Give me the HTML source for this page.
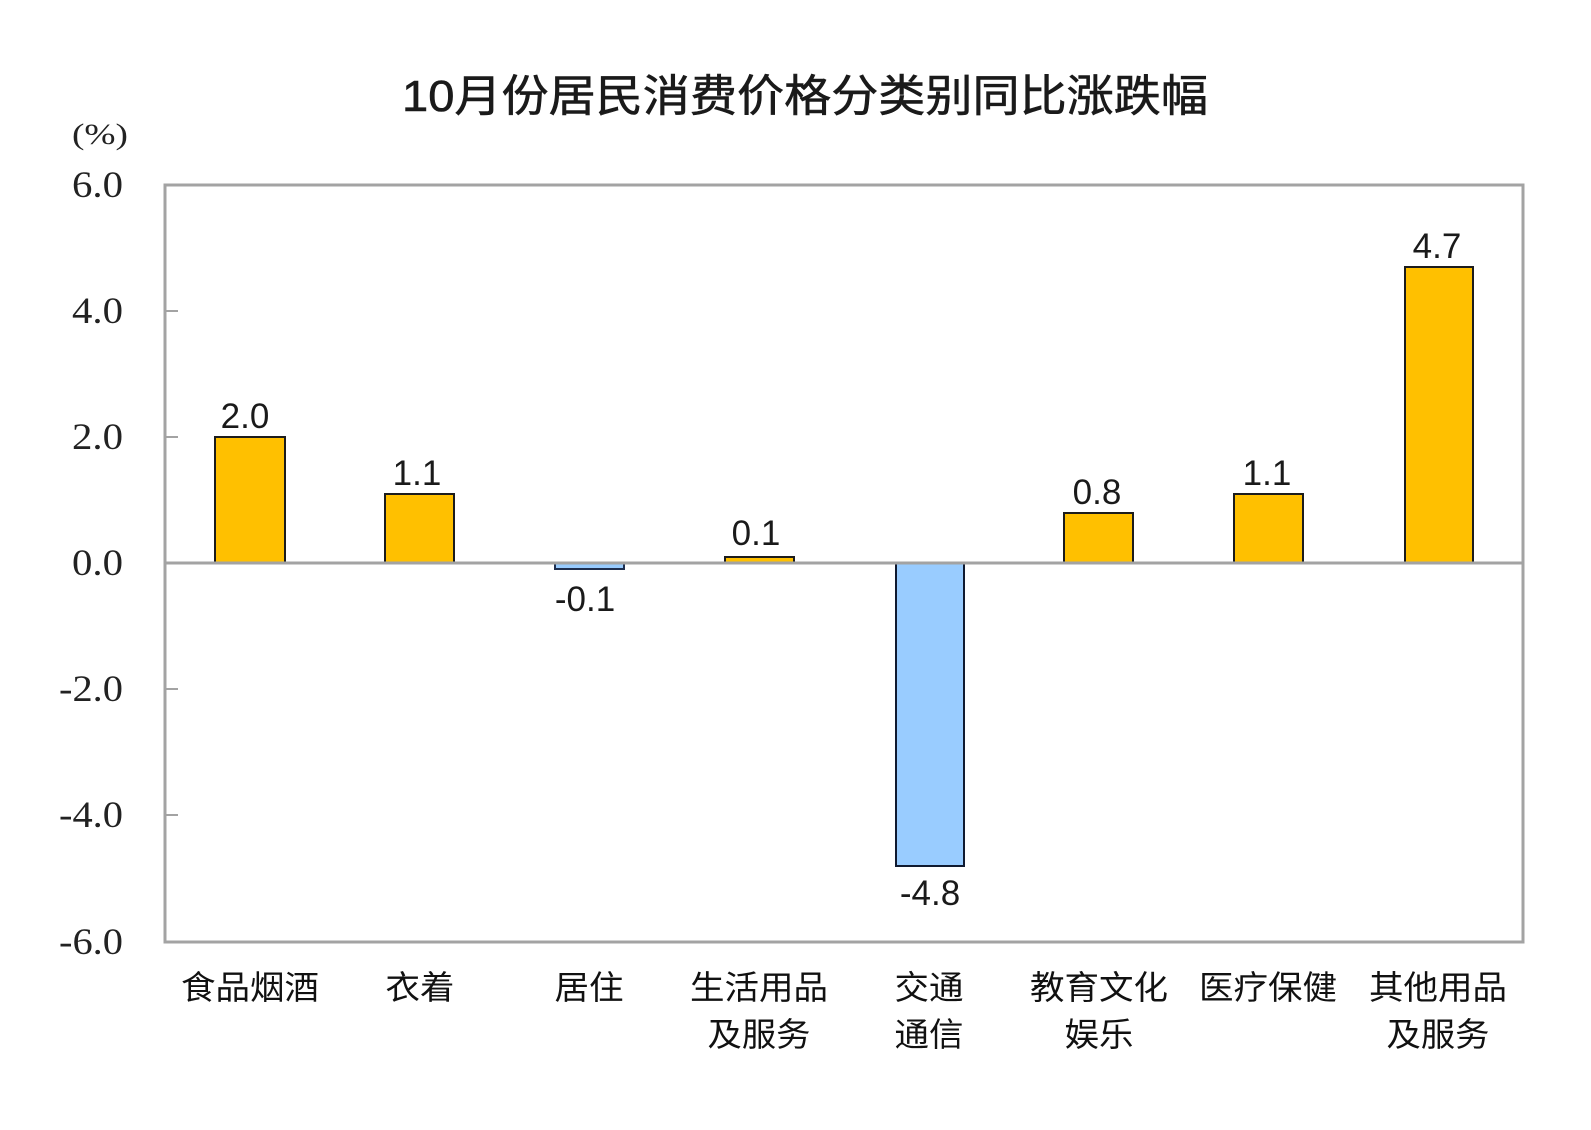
<!DOCTYPE html>
<html><head><meta charset="utf-8"><style>
html,body{margin:0;padding:0;background:#fff;}
svg{display:block;}
.t{font-family:"Liberation Sans","Noto Sans CJK SC",sans-serif;fill:#1a1a1a;}
.y{font-family:"Liberation Serif",serif;fill:#222;font-size:37px;}
.v{font-family:"Liberation Sans",sans-serif;fill:#1a1a1a;font-size:35px;}
.c{font-family:"Liberation Sans","Noto Sans CJK SC",sans-serif;fill:#111;font-size:33px;}
</style></head><body>
<svg width="1591" height="1130" viewBox="0 0 1591 1130" xmlns="http://www.w3.org/2000/svg">
<rect width="1591" height="1130" fill="#fff"/>
<text class="t" x="402" y="111" font-size="44" textLength="806" lengthAdjust="spacingAndGlyphs" stroke="#1a1a1a" stroke-width="0.6">10月份居民消费价格分类别同比涨跌幅</text>
<text x="72" y="144" font-family="Liberation Serif, serif" font-size="30" fill="#222" textLength="56" lengthAdjust="spacingAndGlyphs">(%)</text>

<!-- y tick labels -->
<text class="y" x="123" y="197" text-anchor="end" textLength="51" lengthAdjust="spacingAndGlyphs">6.0</text>
<text class="y" x="123" y="323" text-anchor="end" textLength="51" lengthAdjust="spacingAndGlyphs">4.0</text>
<text class="y" x="123" y="449" text-anchor="end" textLength="51" lengthAdjust="spacingAndGlyphs">2.0</text>
<text class="y" x="123" y="575" text-anchor="end" textLength="51" lengthAdjust="spacingAndGlyphs">0.0</text>
<text class="y" x="123" y="701" text-anchor="end" textLength="64" lengthAdjust="spacingAndGlyphs">-2.0</text>
<text class="y" x="123" y="827" text-anchor="end" textLength="64" lengthAdjust="spacingAndGlyphs">-4.0</text>
<text class="y" x="123" y="954" text-anchor="end" textLength="64" lengthAdjust="spacingAndGlyphs">-6.0</text>

<!-- bars -->
<g stroke="#1c1c1c" stroke-width="2">
<rect x="215" y="437" width="70" height="126" fill="#FFC000"/>
<rect x="385" y="494" width="69" height="69" fill="#FFC000"/>
<rect x="555" y="563" width="69" height="6" fill="#99CCFF" stroke="#1f2f4f"/>
<rect x="725" y="557" width="69" height="6" fill="#FFC000"/>
<rect x="896" y="563" width="68" height="303" fill="#99CCFF" stroke="#101a30"/>
<rect x="1064" y="513" width="69" height="50" fill="#FFC000"/>
<rect x="1234" y="494" width="69" height="69" fill="#FFC000"/>
<rect x="1405" y="267" width="68" height="296" fill="#FFC000"/>
</g>

<!-- frame -->
<rect x="165" y="185" width="1358" height="757" fill="none" stroke="#a3a3a3" stroke-width="3"/>
<line x1="165" y1="563" x2="1523" y2="563" stroke="#a3a3a3" stroke-width="3"/>
<g stroke="#a3a3a3" stroke-width="2">
<line x1="166" y1="311" x2="178" y2="311"/>
<line x1="166" y1="437" x2="178" y2="437"/>
<line x1="166" y1="689" x2="178" y2="689"/>
<line x1="166" y1="815" x2="178" y2="815"/>
</g>

<!-- value labels -->
<text class="v" x="245" y="428" text-anchor="middle">2.0</text>
<text class="v" x="417" y="485" text-anchor="middle">1.1</text>
<text class="v" x="585" y="611" text-anchor="middle">-0.1</text>
<text class="v" x="756" y="545" text-anchor="middle">0.1</text>
<text class="v" x="930" y="905" text-anchor="middle">-4.8</text>
<text class="v" x="1097" y="504" text-anchor="middle">0.8</text>
<text class="v" x="1267" y="485" text-anchor="middle">1.1</text>
<text class="v" x="1437" y="258" text-anchor="middle">4.7</text>

<!-- category labels -->
<text class="c" x="250" y="999" text-anchor="middle" textLength="138" lengthAdjust="spacingAndGlyphs">食品烟酒</text>
<text class="c" x="420" y="999" text-anchor="middle" textLength="69" lengthAdjust="spacingAndGlyphs">衣着</text>
<text class="c" x="589" y="999" text-anchor="middle" textLength="69" lengthAdjust="spacingAndGlyphs">居住</text>
<text class="c" x="759" y="999" text-anchor="middle" textLength="138" lengthAdjust="spacingAndGlyphs">生活用品</text>
<text class="c" x="759" y="1046" text-anchor="middle" textLength="103" lengthAdjust="spacingAndGlyphs">及服务</text>
<text class="c" x="929" y="999" text-anchor="middle" textLength="69" lengthAdjust="spacingAndGlyphs">交通</text>
<text class="c" x="929" y="1046" text-anchor="middle" textLength="69" lengthAdjust="spacingAndGlyphs">通信</text>
<text class="c" x="1099" y="999" text-anchor="middle" textLength="138" lengthAdjust="spacingAndGlyphs">教育文化</text>
<text class="c" x="1099" y="1046" text-anchor="middle" textLength="69" lengthAdjust="spacingAndGlyphs">娱乐</text>
<text class="c" x="1268" y="999" text-anchor="middle" textLength="138" lengthAdjust="spacingAndGlyphs">医疗保健</text>
<text class="c" x="1438" y="999" text-anchor="middle" textLength="138" lengthAdjust="spacingAndGlyphs">其他用品</text>
<text class="c" x="1438" y="1046" text-anchor="middle" textLength="103" lengthAdjust="spacingAndGlyphs">及服务</text>
</svg>
</body></html>
